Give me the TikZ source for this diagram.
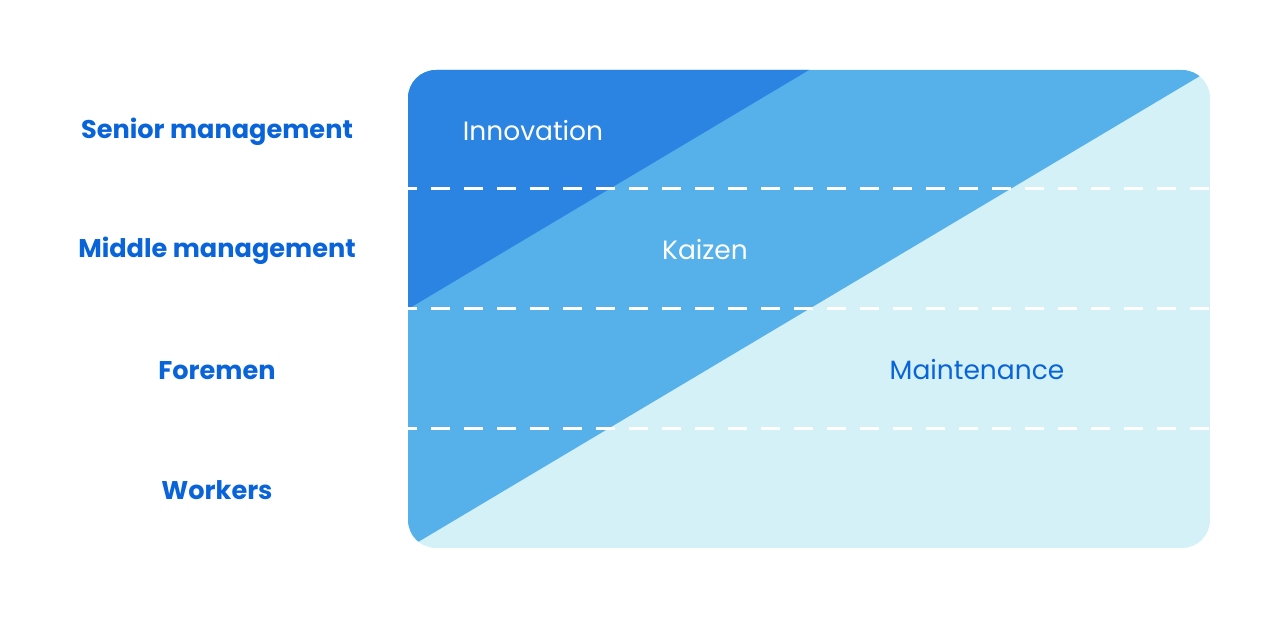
\documentclass[tikz,border=0pt]{standalone}
\usepackage{fontspec}
\setmainfont{Poppins}
\usepackage{tikz}
\definecolor{innov}{HTML}{2B83E2}
\definecolor{kaiz}{HTML}{56B0E9}
\definecolor{maint}{HTML}{D3F1F7}
\definecolor{labelblue}{HTML}{0A64D9}

\begin{document}
\begin{tikzpicture}[x=1pt,y=-1pt,
    level/.style={font=\fontsize{25.6}{30}\selectfont\bfseries, text=labelblue},
    area/.style={font=\fontsize{26.5}{31}\selectfont},
    sep/.style={white, line width=3pt, dash pattern=on 19pt off 14pt, dash phase=10pt}]
    \useasboundingbox (0,0) rectangle (1280,618);
    \begin{scope}
	\clip[rounded corners=28pt] (408,70) rectangle (1210,548);
	\fill[maint] (408,70) rectangle (1210,548);
	\fill[kaiz] (408,548) -- (1210,70) -- (408,70) -- cycle;
	\fill[innov] (408,309) -- (809,70) -- (408,70) -- cycle;
	\foreach \y in {188,308,428}
	  \draw[sep] (408,\y) -- (1210,\y);
    \end{scope}
    \node[level] (senior) at (217,132) {Senior management};
    \node[level] (middle) at (217,251) {Middle management};
    \node[level] (foremen) at (217,371) {Foremen};
    \node[level] (workers) at (217,490) {Workers};
    \node[area, text=white] (innovation) at (533,131) {Innovation};
    \node[area, text=white] (kaizen) at (705,250) {Kaizen};
    \node[area, text=labelblue] (maintenance) at (977,370) {Maintenance};
\end{tikzpicture}
\end{document}
